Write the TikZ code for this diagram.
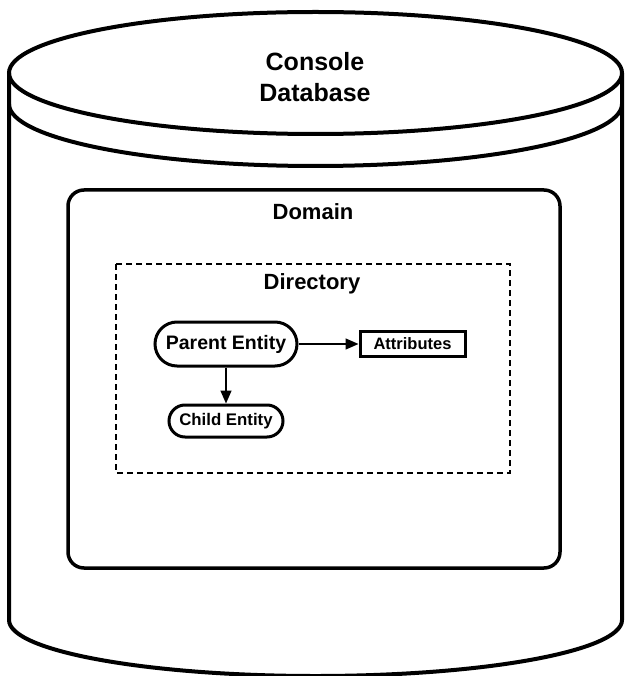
\documentclass[tikz,border=0pt]{standalone}
\usepackage{fontspec}
\setmainfont{Liberation Sans}
\usetikzlibrary{positioning,arrows.meta}

\begin{document}
\begin{tikzpicture}[x=1pt, y=1pt, font=\bfseries, entity/.style={draw, line width=3pt, inner sep=0pt}, link/.style={-{Triangle[length=13pt,width=11pt]}, line width=1.5pt}]
\useasboundingbox (0,0) rectangle (624,-676);
\draw[line width=4pt] (315.5,-73) ellipse [x radius=306.5, y radius=61];
\draw[line width=4pt] (9,-104) arc [start angle=180, end angle=360, x radius=306.5, y radius=62];
\draw[line width=4pt] (9,-73) -- (9,-620) arc [start angle=180, end angle=360, x radius=306.5, y radius=56] -- (622,-73);
\node[align=center, font=\bfseries\fontsize{25}{31}\selectfont] (console) at (315,-77) {Console\\Database};
\draw[line width=3.5pt, rounded corners=16pt] (68,-190) rectangle (560,-568);
\node[font=\bfseries\fontsize{22}{26}\selectfont] (domain) at (313,-212) {Domain};
\draw[line width=2.5pt, dash pattern=on 6pt off 4pt] (116,-264) rectangle (510,-473);
\node[font=\bfseries\fontsize{22}{26}\selectfont] (directory) at (312,-284) {Directory};
\node[entity, rounded corners=22pt, minimum width=142pt, minimum height=44pt, font=\bfseries\fontsize{19.5}{23}\selectfont] (parent) at (226,-344) {Parent Entity};
\node[entity, rounded corners=16pt, minimum width=114pt, minimum height=32pt, font=\bfseries\fontsize{16.8}{20}\selectfont, below=36pt of parent] (child) {Child Entity};
\node[entity, minimum width=105pt, minimum height=25pt, font=\bfseries\fontsize{16.5}{19}\selectfont, right=60pt of parent] (attributes) {Attributes};
\draw[link] (parent.south) -- (child.north);
\draw[link] (parent.east) -- (attributes.west);
\end{tikzpicture}
\end{document}
